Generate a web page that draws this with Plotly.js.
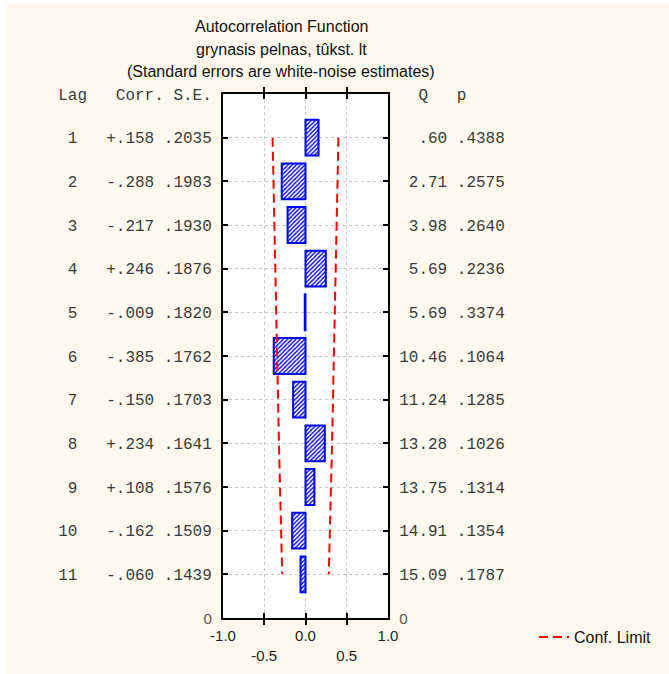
<!DOCTYPE html>
<html>
<head>
<meta charset="utf-8">
<script src="https://cdn.plot.ly/plotly-3.0.1.min.js"></script>
<style>
  html, body { margin: 0; padding: 0; background: #ffffff; }
  #chart { position: absolute; left: 6px; top: 4px; width: 663px; height: 670px; }
</style>
</head>
<body>
<div id="chart"></div>
<script>
// Autocorrelation function table: lag, correlation, standard error, Box-Ljung Q and p
const lags = [1, 2, 3, 4, 5, 6, 7, 8, 9, 10, 11];
const corr = [0.158, -0.288, -0.217, 0.246, -0.009, -0.385, -0.150, 0.234, 0.108, -0.162, -0.060];
const stdErr = [0.2035, 0.1983, 0.1930, 0.1876, 0.1820, 0.1762, 0.1703, 0.1641, 0.1576, 0.1509, 0.1439];
const qStat = [0.60, 2.71, 3.98, 5.69, 5.69, 10.46, 11.24, 13.28, 13.75, 14.91, 15.09];
const pValue = [0.4388, 0.2575, 0.2640, 0.2236, 0.3374, 0.1064, 0.1285, 0.1026, 0.1314, 0.1354, 0.1787];
// Confidence limit (half-width) at each lag
const confLimit = [0.399, 0.389, 0.378, 0.368, 0.357, 0.345, 0.334, 0.322, 0.309, 0.296, 0.282];

const titleLines = [
  'Autocorrelation Function',
  'grynasis pelnas, tûkst. lt',
  '(Standard errors are white-noise estimates)'
];
const leftHeader = 'Lag   Corr. S.E.';
const rightHeader = '  Q   p';
const xTickVals = [-1, -0.5, 0, 0.5, 1];
const xTickText = ['-1.0', '<br>-0.5', '0.0', '<br>0.5', '1.0'];

const NB = '\u00a0';
const sp = s => s.replace(/ /g, NB);
const noLead = s => s.replace(/^(-?)0\./, '$1.');
const padL = (s, n) => (' '.repeat(Math.max(0, n - s.length)) + s);
const fmtCorr = v => (v >= 0 ? '+' : '-') + noLead(Math.abs(v).toFixed(3));
const fmt4 = v => noLead(v.toFixed(4));
const fmtQ = v => padL(noLead(v.toFixed(2)), 5);

const leftRows = lags.map((l, i) => sp(padL(String(l), 2) + '   ' + fmtCorr(corr[i]) + ' ' + fmt4(stdErr[i])));
const rightRows = lags.map((l, i) => sp(fmtQ(qStat[i]) + ' ' + fmt4(pValue[i])));

const yTickVals = [0].concat(lags, [12]);
const zeroLabel = '<span style="font-family:Liberation Sans;font-size:15px;color:#555">0</span>';
const leftTickText = [sp(leftHeader)].concat(leftRows, [zeroLabel]);
const rightTickText = [sp(rightHeader)].concat(rightRows, [zeroLabel]);

const BLUE = '#0000ff';
const RED = '#ff0000';
const MONO = {family: 'Liberation Mono, monospace', size: 16, color: '#3a3a3a'};
const SANS = 'Liberation Sans, Arial, sans-serif';

const traces = [
  {
    type: 'bar', orientation: 'h',
    x: corr, y: lags, width: 0.82,
    marker: {
      color: '#ffffff',
      line: {color: BLUE, width: 2},
      pattern: {shape: '/', fgcolor: BLUE, bgcolor: '#ffffff', size: 3, solidity: 0.45}
    },
    showlegend: false, hoverinfo: 'skip'
  },
  {
    type: 'scatter', mode: 'lines',
    x: confLimit.map(v => -v), y: lags,
    line: {color: RED, width: 2, dash: '9px,5px'},
    name: 'Conf. Limit', legendgroup: 'cl', showlegend: true
  },
  {
    type: 'scatter', mode: 'lines',
    x: confLimit, y: lags, yaxis: 'y2',
    line: {color: RED, width: 2, dash: '9px,5px'},
    name: 'Conf. Limit', legendgroup: 'cl', showlegend: false
  }
];

// plot area geometry in px (for placing title lines in paper units)
const M = {l: 217, r: 281, t: 90, b: 56};
const W = 663, H = 670;
const plotH = H - M.t - M.b, plotW = W - M.l - M.r;
const py = yPx => (H - M.b - yPx) / plotH;
const px = xPx => (xPx - M.l) / plotW;

const titleY = [23, 45, 67];
const annotations = titleLines.map((t, i) => ({
  text: t, xref: 'paper', yref: 'paper', x: px(275), y: py(titleY[i]),
  xanchor: 'center', yanchor: 'middle', showarrow: false,
  font: {family: SANS, size: 16, color: '#111111'}
}));

const layout = {
  width: W, height: H,
  margin: M,
  paper_bgcolor: '#fffaf0',
  plot_bgcolor: '#ffffff',
  barmode: 'overlay',
  showlegend: true,
  legend: {
    x: px(528), xanchor: 'left', y: py(633), yanchor: 'middle',
    bgcolor: 'rgba(0,0,0,0)', borderwidth: 0,
    font: {family: SANS, size: 16, color: '#111111'}
  },
  xaxis: {
    range: [-1, 1], tickmode: 'array', tickvals: xTickVals, ticktext: xTickText,
    ticks: 'inside', ticklen: 5, tickwidth: 2, tickcolor: '#000000',
    showline: true, linewidth: 2, linecolor: '#000000', mirror: 'allticks',
    showgrid: true, gridcolor: '#c8c8c8', griddash: 'dot', gridwidth: 1,
    zeroline: false, fixedrange: true, ticklabelstandoff: 3,
    tickfont: {family: SANS, size: 15, color: '#222222'}
  },
  yaxis: {
    range: [12, 0], tickmode: 'array', tickvals: yTickVals, ticktext: leftTickText,
    ticks: 'inside', ticklen: 5, tickwidth: 2, tickcolor: '#000000',
    showline: true, linewidth: 2, linecolor: '#000000',
    showgrid: true, gridcolor: '#c8c8c8', griddash: 'dot', gridwidth: 1,
    zeroline: false, fixedrange: true, ticklabelstandoff: 6,
    tickfont: MONO
  },
  yaxis2: {
    overlaying: 'y', side: 'right', anchor: 'x',
    range: [12, 0], tickmode: 'array', tickvals: yTickVals, ticktext: rightTickText,
    ticks: 'inside', ticklen: 5, tickwidth: 2, tickcolor: '#000000',
    showline: true, linewidth: 2, linecolor: '#000000',
    showgrid: false, zeroline: false, fixedrange: true, ticklabelstandoff: 6,
    tickfont: MONO
  },
  annotations: annotations
};

Plotly.newPlot('chart', traces, layout, {displayModeBar: false, staticPlot: true});
</script>
</body>
</html>
